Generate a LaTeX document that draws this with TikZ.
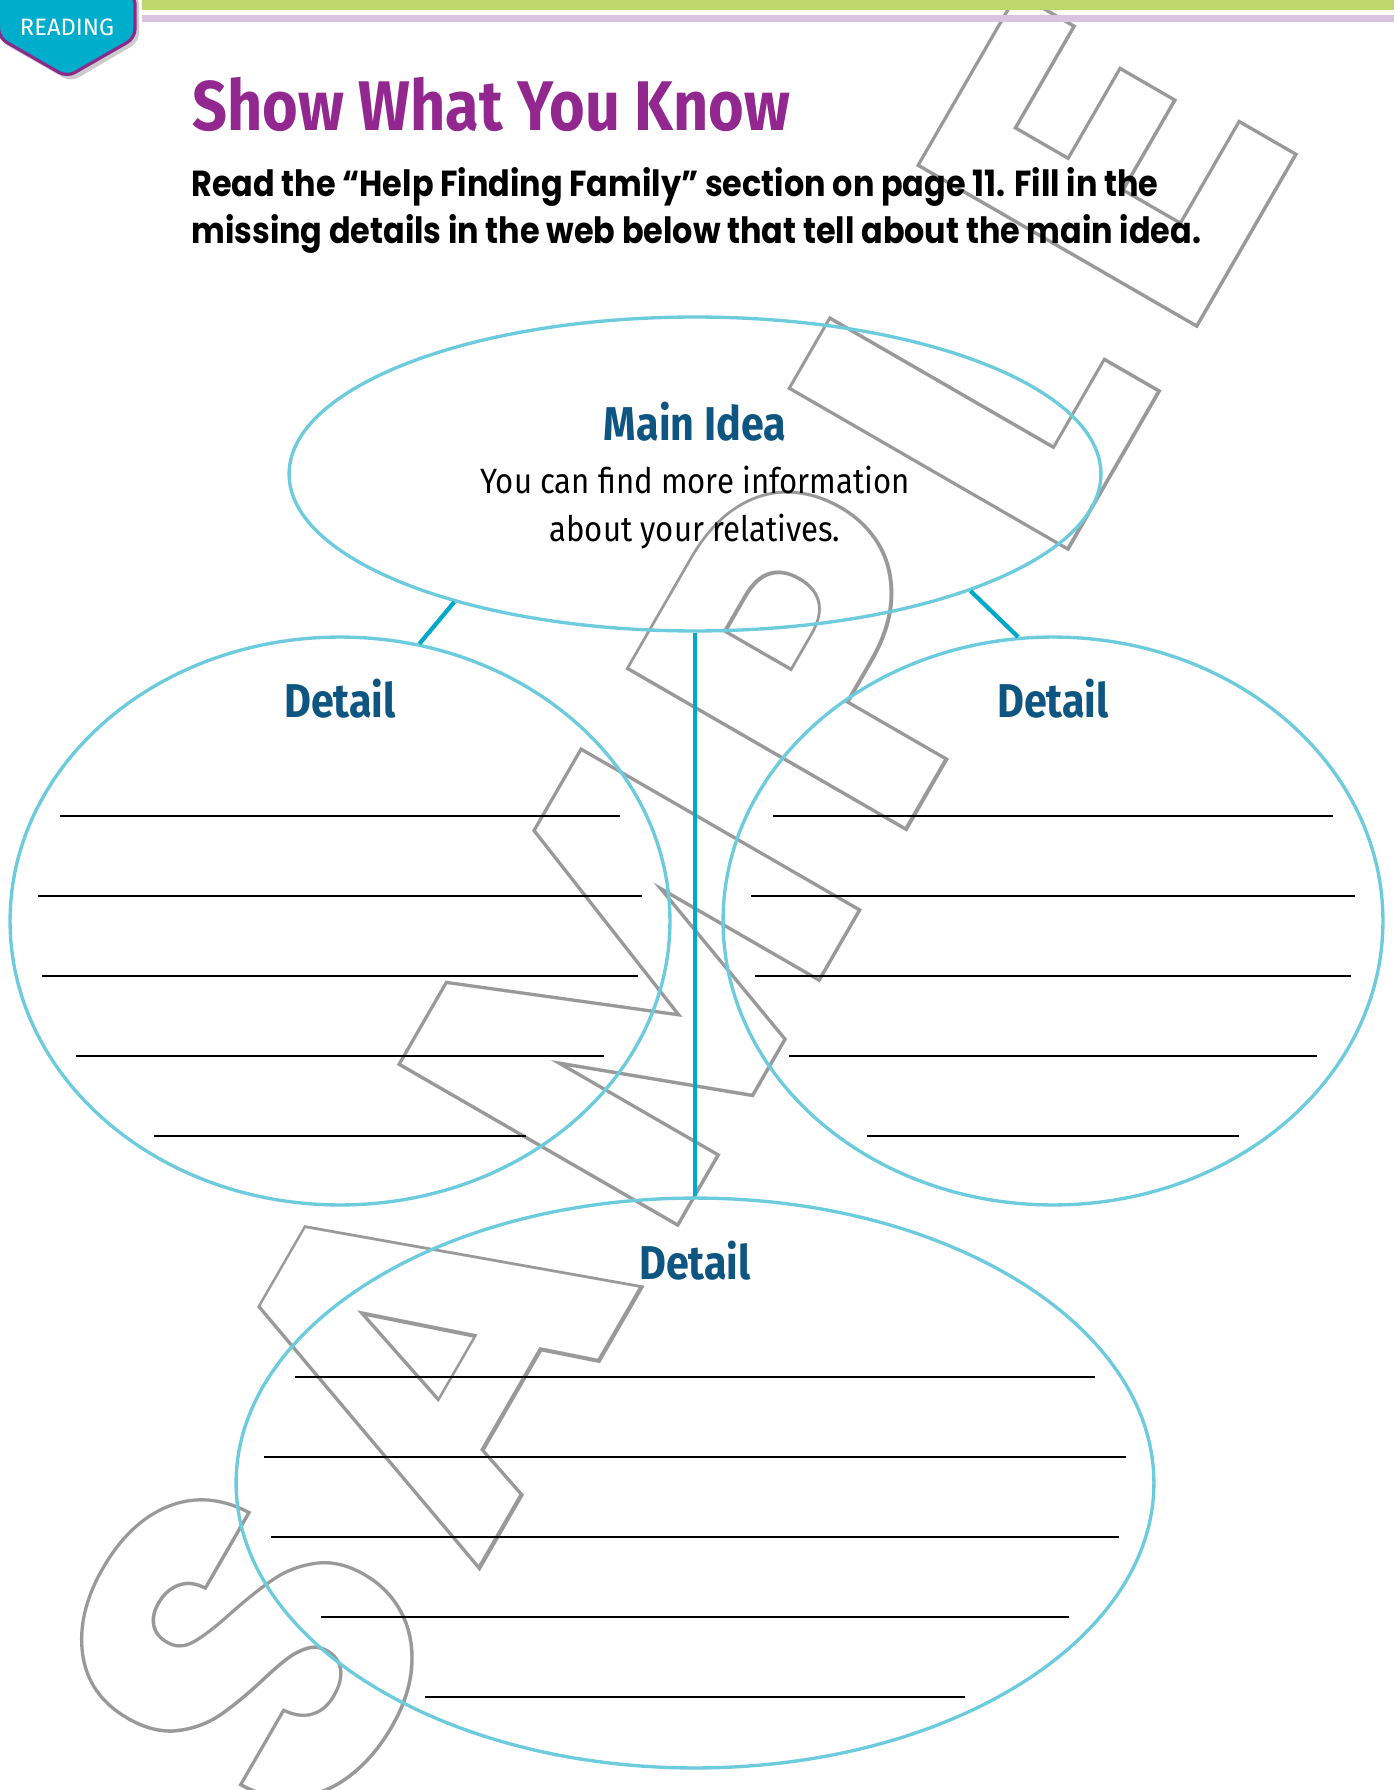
\documentclass[tikz,border=0pt]{standalone}
\usepackage{fontspec}
\usetikzlibrary{shapes.geometric}
\setmainfont{Fira Sans}
\newfontfamily\headfont[FakeStretch=0.87]{Fira Sans}
\newfontfamily\askfont[FakeStretch=0.88]{Poppins}
\newfontfamily\bodyfont[FakeStretch=0.885]{Fira Sans}
\newfontfamily\markfill[LetterSpace=9]{Poppins}
\newfontfamily\markrim[LetterSpace=9,FakeBold=1.5]{Poppins}
\definecolor{titlepurple}{HTML}{92278F}
\definecolor{ideablue}{HTML}{0F5581}
\definecolor{rimcyan}{HTML}{6CCBDD}
\definecolor{stemcyan}{HTML}{00A9C9}
\definecolor{barlime}{HTML}{BDD76C}
\definecolor{barlilac}{HTML}{D9C3DF}
\definecolor{tagcyan}{HTML}{00AECB}
\definecolor{tagpurple}{HTML}{8B2A8B}
\definecolor{markgray}{HTML}{999999}
\begin{document}
\begin{tikzpicture}[x=0.02cm,y=-0.02cm,
  rim/.style={draw=rimcyan,line width=1.9pt,ellipse,inner sep=0pt},
  stem/.style={draw=stemcyan,line width=2.4pt},
  answer/.style={draw=black,line width=1.2pt},
  boxhead/.style={text=ideablue,anchor=base,font=\headfont\bfseries\fontsize{27}{30}\selectfont},
  sample/.style={rotate=60,inner sep=0pt}]
\useasboundingbox (0,0) rectangle (1394,1790);
\fill[white] (0,0) rectangle (1394,1790);
% watermark: grey rim first, plain white letters on top
\node[sample,text=markgray] (markrim) at (672,912)
  {\markrim\bfseries\fontsize{258}{258}\selectfont SAMPLE};
\node[sample,text=white] (markfill) at (672,912)
  {\markfill\bfseries\fontsize{258}{258}\selectfont SAMPLE};
% page header
\fill[barlime] (142,0) rectangle (1394,10);
\fill[barlilac] (142,15) rectangle (1394,22);
\fill[black!20,rounded corners=5pt] (0,-5) -- (139,-5) -- (139,42) -- (71,82) -- (1,42) -- cycle;
\filldraw[fill=tagcyan,draw=tagpurple,line width=1.8pt,rounded corners=5pt]
  (-3,-5) -- (135,-5) -- (135,38) -- (67,77) -- (-1,38) -- cycle;
\node[text=white,font=\fontsize{13.5}{15}\selectfont] (tag) at (67,27) {READING};
\node[anchor=base west,text=titlepurple,inner sep=0pt,
  font=\headfont\bfseries\fontsize{40}{48}\selectfont] (title) at (192,131) {Show What You Know};
\node[anchor=base west,align=left,inner sep=0pt,
  font=\askfont\bfseries\fontsize{20.6}{27.3}\selectfont] (ask) at (191,244)
  {Read the “Help Finding Family” section on page 11. Fill in the\\
   missing details in the web below that tell about the main idea.};
% the web
\node[rim,minimum width=16.24cm,minimum height=6.28cm] (main) at (695,474) {};
\node[rim,minimum width=13.2cm,minimum height=11.36cm] (left) at (340,921) {};
\node[rim,minimum width=13.2cm,minimum height=11.36cm] (right) at (1053,921) {};
\node[rim,minimum width=18.36cm,minimum height=11.4cm] (bottom) at (695,1483) {};
\draw[stem] (main.208.6) -- (left.74);
\draw[stem] (main.337.4) -- (right.97.6);
\draw[stem] (main.south) -- (bottom.north);
\node[boxhead] (mainhead) at ([shift={(0,-33)}]main.center) {Main Idea};
\node[anchor=base,align=center,inner sep=0pt,
  font=\bodyfont\fontsize{20}{27.3}\selectfont] (maintext) at ([shift={(0,67)}]main.center)
  {You can find more information\\about your relatives.};
\node[boxhead] (lefthead) at ([shift={(0,-204)}]left.center) {Detail};
\node[boxhead] (righthead) at ([shift={(0,-204)}]right.center) {Detail};
\node[boxhead] (bottomhead) at ([shift={(0,-204)}]bottom.center) {Detail};
\foreach \dy/\hw in {-105/280,-25/302,55/298,135/264,215/186}{
  \draw[answer] ([shift={(-\hw,\dy)}]left.center) -- ([shift={(\hw,\dy)}]left.center);
  \draw[answer] ([shift={(-\hw,\dy)}]right.center) -- ([shift={(\hw,\dy)}]right.center);
}
\foreach \dy/\hw in {-106/400,-26/431,54/424,134/374,214/270}
  \draw[answer] ([shift={(-\hw,\dy)}]bottom.center) -- ([shift={(\hw,\dy)}]bottom.center);
\end{tikzpicture}
\end{document}
